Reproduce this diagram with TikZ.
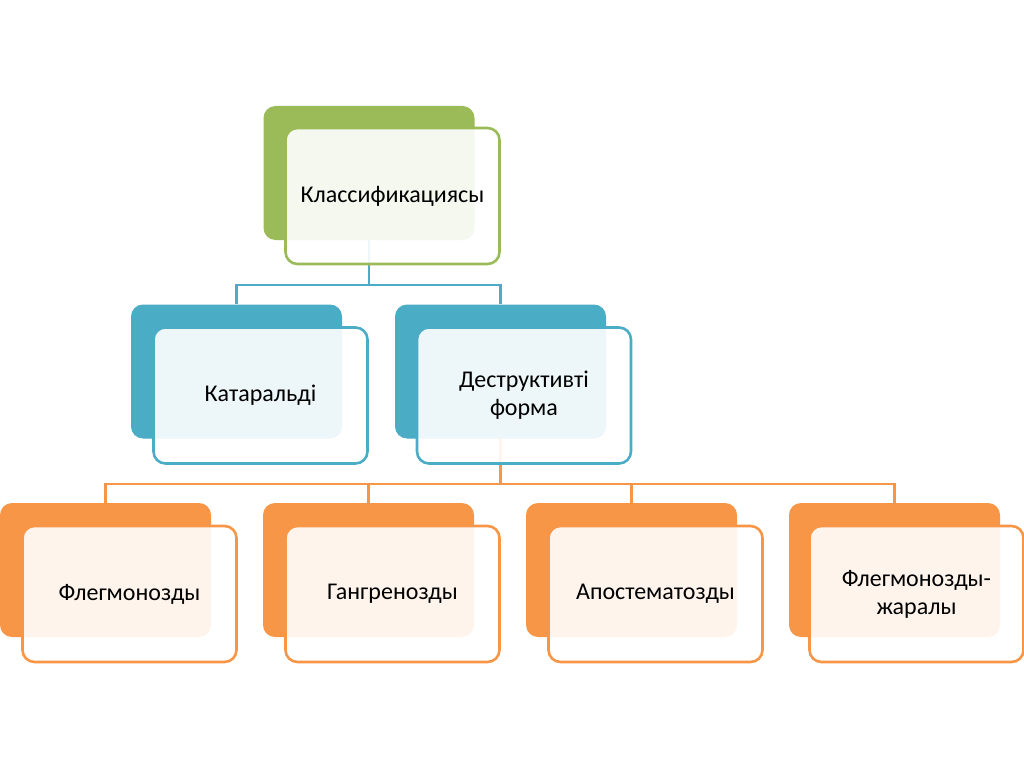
\documentclass[tikz,border=0pt]{standalone}
\usepackage{fontspec}
\setmainfont{Carlito}
\definecolor{cgreen}{HTML}{9BBB59}
\definecolor{cblue}{HTML}{4BACC6}
\definecolor{corange}{HTML}{F79646}
\tikzset{
  backbox/.style={rounded corners=12pt, minimum width=211pt, minimum height=134pt, inner sep=0pt, draw=none},
  frontbox/.style={rounded corners=12pt, minimum width=214pt, minimum height=136pt, line width=2.6pt, fill=white, fill opacity=0.9, text opacity=1, align=center, font=\fontsize{24}{28}\selectfont, text=black},
  conn/.style={line width=2.4pt}
}
\begin{document}
\begin{tikzpicture}[x=1pt,y=-1pt]
\useasboundingbox (0,0) rectangle (1024,767);
\fill[white] (0,0) rectangle (1024,767);
% back boxes
\node[backbox, fill=cgreen] (b0) at (369,173) {};
\node[backbox, fill=cblue] (b1) at (236.5,371.5) {};
\node[backbox, fill=cblue] (b2) at (500.5,371.5) {};
\node[backbox, fill=corange] (b3) at (105.5,570) {};
\node[backbox, fill=corange] (b4) at (368.5,570) {};
\node[backbox, fill=corange] (b5) at (631.5,570) {};
\node[backbox, fill=corange] (b6) at (894.5,570) {};
% connectors
\coordinate (j1) at (369,285);
\coordinate (j2) at (500.5,484);
\draw[conn, cblue] (b0.south) -- (j1) -| (b1.north);
\draw[conn, cblue] (j1) -| (b2.north);
\draw[conn, corange] (b2.south) -- (j2) -| (b3.north);
\draw[conn, corange] (j2) -| (b4.north);
\draw[conn, corange] (j2) -| (b5.north);
\draw[conn, corange] (j2) -| (b6.north);
% front boxes
\node[frontbox, draw=cgreen] (f0) at (392.5,196) {Классификациясы};
\node[frontbox, draw=cblue] (f1) at (260.5,395.5) {Катаральді};
\node[frontbox, draw=cblue] (f2) at (524,395.5) {Деструктивті\\форма};
\node[frontbox, draw=corange] (f3) at (129.5,594) {Флегмонозды};
\node[frontbox, draw=corange] (f4) at (392.5,594) {Гангренозды};
\node[frontbox, draw=corange] (f5) at (655.5,594) {Апостематозды};
\node[frontbox, draw=corange] (f6) at (916.5,594) {Флегмонозды-\\жаралы};
\end{tikzpicture}
\end{document}
